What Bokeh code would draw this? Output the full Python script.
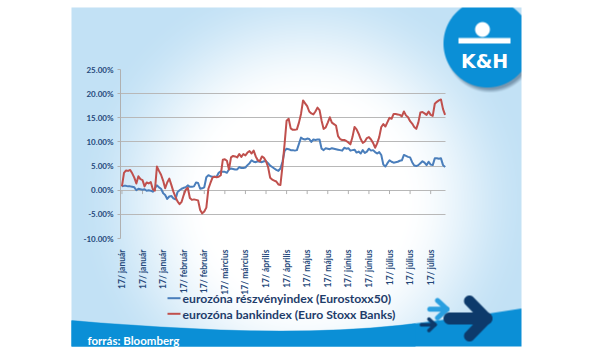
import math
import numpy as np
from bokeh.plotting import figure
from bokeh.models import (Range1d, LinearAxis, FixedTicker, Grid, PrintfTickFormatter)
from bokeh.core.properties import value
from bokeh.embed import file_html
from bokeh.resources import INLINE

# ---------------- data ----------------
tick_labels = ["17/ január", "17/ január", "17/ január", "17/ február", "17/ február",
               "17/ március", "17/ március", "17/ április", "17/ április", "17/ május",
               "17/ május", "17/ június", "17/ június", "17/ július", "17/ július", "17/ július"]
tick_days = [0, 10, 20, 30, 40, 50, 60, 70, 80, 90, 100, 110, 120, 130, 140, 150]
y_ticks = [-10, -5, 0, 5, 10, 15, 20, 25]
series_names = ["eurozóna részvényindex (Eurostoxx50)", "eurozóna bankindex (Euro Stoxx Banks)"]

eurostoxx50 = [
    0.8, 0.9, 0.9, 0.8, 0.8, 0.7, 0.6, 0.0, 0.3, 0.2,
    0.1, 0.2, -0.1, 0.0, -0.1, -0.3, 0.4, 1.0, 0.6, 0.3,
    -0.6, -1.0, -1.8, -1.3, -1.2, -1.7, -1.9, -0.4, 0.0, 0.3,
    0.5, 0.6, 1.0, 0.7, 0.7, 0.8, 1.6, 1.5, 0.3, 0.4,
    0.6, 2.7, 3.1, 2.9, 2.8, 2.8, 2.8, 3.6, 3.9, 3.8,
    3.8, 3.6, 4.3, 4.5, 4.4, 4.3, 4.3, 4.8, 4.6, 4.6,
    4.7, 5.2, 5.6, 6.2, 5.9, 5.8, 6.0, 5.9, 5.8, 6.0,
    6.0, 5.6, 5.1, 4.8, 4.5, 4.2, 4.0, 4.5, 5.9, 8.1,
    8.6, 8.5, 8.3, 8.3, 8.2, 8.3, 9.6, 10.9, 10.6, 10.5,
    10.7, 10.6, 10.0, 10.5, 10.4, 10.5, 10.5, 8.6, 8.3, 8.7,
    8.6, 8.5, 8.7, 8.6, 8.5, 8.4, 8.3, 8.2, 8.8, 8.6,
    8.7, 8.2, 8.3, 8.4, 7.8, 8.0, 7.6, 8.3, 7.7, 8.0,
    8.6, 8.2, 8.3, 7.9, 7.6, 7.9, 7.3, 5.3, 4.9, 5.6,
    6.2, 5.9, 5.7, 5.8, 5.9, 6.1, 6.2, 7.3, 7.1, 6.9,
    6.8, 5.8, 5.1, 5.0, 5.2, 5.6, 6.0, 5.7, 5.2, 5.9,
    5.3, 5.2, 6.6, 6.6, 6.5, 6.6, 5.2, 4.8]

euro_stoxx_banks = [
    0.8, 3.6, 4.1, 4.0, 4.2, 3.5, 2.6, 1.4, 2.9, 2.3,
    2.1, 0.8, 1.6, 1.4, 1.7, 0.2, -0.1, 4.9, 4.0, 3.2,
    2.0, 0.4, 1.6, 2.4, 1.1, -0.3, -1.4, -2.3, -2.9, -2.4,
    -1.0, 0.1, 0.5, -1.6, -2.0, -1.9, -2.0, -2.1, -4.1, -4.8,
    -4.4, -3.6, 0.3, 1.5, 2.6, 2.8, 2.7, 2.8, 3.1, 6.3,
    6.4, 6.1, 4.3, 6.8, 7.1, 7.0, 6.8, 7.5, 6.9, 7.5,
    7.2, 7.8, 8.1, 7.6, 8.2, 7.0, 6.2, 6.0, 7.0, 6.7,
    6.0, 4.8, 2.6, 2.2, 2.0, 1.8, 1.2, 1.1, 5.0, 9.5,
    14.4, 14.8, 12.8, 12.5, 12.5, 12.6, 14.0, 15.8, 18.6, 18.0,
    17.4, 16.3, 15.9, 15.7, 16.3, 17.1, 16.6, 14.4, 12.7, 13.0,
    14.0, 15.1, 14.0, 13.7, 13.4, 11.2, 10.6, 10.4, 10.4, 10.2,
    9.9, 9.5, 11.0, 13.1, 12.6, 11.7, 10.6, 9.8, 10.1, 10.8,
    11.0, 10.5, 9.8, 8.8, 9.7, 11.0, 13.1, 13.7, 13.2, 14.1,
    15.0, 14.8, 15.8, 15.8, 15.7, 15.6, 15.3, 16.3, 15.5, 15.1,
    14.3, 13.8, 13.1, 12.7, 14.0, 16.1, 16.2, 15.9, 15.6, 16.3,
    15.6, 15.4, 17.9, 18.3, 18.6, 18.8, 16.8, 15.6]

days = list(range(len(eurostoxx50)))

# ---------------- layout geometry (pixels) ----------------
W, H = 600, 357
FL, FR, FT, FB = 120, 445, 69, 238          # plot frame
X0, X1 = -0.7, 157.2
Y0, Y1 = -10, 25
PX0, PX1, PY0, PY1 = 71, 521, 7, 346        # decorative panel

BLUE = "#4a7ebb"
RED = "#c0504d"
NAVY = "#1f3d6b"
TICKC = "#25487a"
BAND = "#0b8fd6"


def dx(px):
    return (X0 + (np.asarray(px, float) - FL) * (X1 - X0) / (FR - FL)).tolist()


def dy(py):
    return (Y1 - (np.asarray(py, float) - FT) * (Y1 - Y0) / (FB - FT)).tolist()


def rgb(h):
    h = h.lstrip("#")
    return np.array([int(h[i:i + 2], 16) for i in (0, 2, 4)], float)


p = figure(width=W, height=H, x_range=Range1d(X0, X1), y_range=Range1d(Y0, Y1),
           x_axis_type=None, y_axis_type=None, output_backend="svg", toolbar_location=None,
           min_border_left=FL, min_border_right=W - FR, min_border_top=FT,
           min_border_bottom=H - FB, background_fill_color="white",
           border_fill_color="white", outline_line_color=None)

DL = "guide"   # decoration level (drawn before grid/data/axes)

# ---------------- decorative raster: gradient, band, logo shapes, arrows ----------------
pw, ph = PX1 - PX0, PY1 - PY0
gx = PX0 + np.arange(pw) + 0.5
gy = PY1 - np.arange(ph) - 0.5          # row 0 = bottom
GX, GY = np.meshgrid(gx, gy)

u = (GX - 305) / 230.0
v = (GY - 200) / 230.0
r = np.sqrt(u * u + v * v)
t = np.clip((r - 0.42) / (1.0 - 0.42), 0, 1)
t = t * t * (3 - 2 * t)
edge = np.array([194, 225, 245], float)
out = np.stack([255 - (255 - edge[c]) * t for c in range(3)], axis=-1)


def blend(cov, color, alpha=1.0):
    global out
    a = (np.clip(cov, 0, 1) * alpha)[..., None]
    out = out * (1 - a) + rgb(color)[None, None, :] * a


def disc(cx, cy, rad):
    return rad + 0.5 - np.hypot(GX - cx, GY - cy)


def stroke(p0, p1, w):
    (x0, y0), (x1, y1) = p0, p1
    vx, vy = x1 - x0, y1 - y0
    tt = np.clip(((GX - x0) * vx + (GY - y0) * vy) / (vx * vx + vy * vy), 0, 1)
    d = np.hypot(GX - (x0 + tt * vx), GY - (y0 + tt * vy))
    return w + 0.5 - d


# bottom blue band with curved top edge
bx = np.array([71, 100, 130, 160, 190, 220, 250, 280, 310, 340, 370, 400, 430, 460, 490, 521])
by = np.array([320, 322.5, 324.5, 326.5, 328, 329.5, 330.3, 330.6, 330.3, 329.3, 327.5,
               324.8, 321, 317, 312.8, 308])
blend(GY - np.interp(GX, bx, by) + 0.5, BAND)

# logo: soft shadow, blue disc, white head and bar
shadow = np.clip((45.5 - np.hypot(GX - 489.5, GY - 47)) / 4.0, 0, 1)
blend(shadow, "#3d5a75", 0.55)
blend(disc(487, 43, 44), BAND)
blend(disc(482, 29, 7.4), "#ffffff")
bar = np.minimum(np.minimum(GX - 458, 510 - GX), np.minimum(GY - 37.5, 43 - GY)) + 0.5
blend(bar, "#ffffff")

# arrows
for (p0, p1, w, col) in [
    ((429.3, 308.7), (446.5, 308.7), 2.5, "#2a9fe0"),
    ((437.0, 300.0), (446.5, 308.7), 2.5, "#2a9fe0"),
    ((437.0, 317.4), (446.5, 308.7), 2.5, "#2a9fe0"),
    ((421.0, 324.3), (434.5, 324.3), 1.8, "#0d3a6b"),
    ((428.5, 318.6), (434.5, 324.3), 1.8, "#0d3a6b"),
    ((428.5, 330.0), (434.5, 324.3), 1.8, "#0d3a6b"),
    ((449.0, 318.0), (486.0, 318.0), 6.0, "#0d3a6b"),
    ((469.0, 300.5), (486.0, 318.0), 5.5, "#0d3a6b"),
    ((469.0, 335.5), (486.0, 318.0), 5.5, "#0d3a6b"),
]:
    blend(stroke(p0, p1, w), col)

img = np.empty((ph, pw, 4), dtype=np.uint8)
img[:, :, :3] = np.clip(np.round(out), 0, 255).astype(np.uint8)
img[:, :, 3] = 255
img32 = img.view(dtype=np.uint32).reshape((ph, pw))
p.image_rgba(image=[img32], x=dx(PX0), y=dy(PY1), dw=dx(PX1) - dx(PX0), dh=dy(PY0) - dy(PY1),
             level=DL)

# ---------------- logo text ----------------
p.text(x=[dx(484)], y=[dy(60)], text=["K&H"], text_color="white",
       text_font=value("DejaVu Sans"), text_font_style="bold", text_font_size=value("19px"),
       text_align="center", text_baseline="alphabetic", level=DL)

# ---------------- legend ----------------
for (ly, col, name) in [(297.7, BLUE, series_names[0]), (313.3, RED, series_names[1])]:
    p.line(dx([167, 180]), dy([ly, ly]), line_color=col, line_width=2, level=DL)
    p.text(x=[dx(182)], y=[dy(ly + 0.5)], text=[name], text_color=NAVY,
           text_font=value("Lato"), text_font_style="bold", text_font_size=value("12.2px"),
           text_align="left", text_baseline="middle", level=DL)

# ---------------- grid / axes ----------------
ygrid = Grid(dimension=1, ticker=FixedTicker(ticks=y_ticks), grid_line_color="#b8b8b8",
             grid_line_width=1, level="annotation")
p.add_layout(ygrid, "center")

yaxis = LinearAxis(ticker=FixedTicker(ticks=y_ticks), formatter=PrintfTickFormatter(format="%.2f%%"),
                   axis_line_color="#b0b0b0", major_tick_line_color="#b0b0b0",
                   major_tick_out=3, major_tick_in=0, minor_tick_line_color=None,
                   major_label_text_font="Lato", major_label_text_font_style="bold",
                   major_label_text_font_size="8px", major_label_text_color=TICKC,
                   major_label_standoff=4, level="overlay")
p.add_layout(yaxis, "left")

xaxis = LinearAxis(ticker=FixedTicker(ticks=tick_days),
                   major_label_overrides={d: l for d, l in zip(tick_days, tick_labels)},
                   major_label_orientation=math.pi / 2, axis_line_color=None,
                   major_tick_line_color=None, minor_tick_line_color=None,
                   major_label_text_font="Lato", major_label_text_font_style="bold",
                   major_label_text_font_size="8.5px", major_label_text_color=TICKC,
                   major_label_standoff=5, level="overlay")
p.add_layout(xaxis, "below")

# tick marks on the 0% category axis
p.segment(x0=tick_days, y0=[0] * len(tick_days), x1=tick_days, y1=[-0.8] * len(tick_days),
          line_color="#b0b0b0", line_width=1, level="overlay")

p.line(days, eurostoxx50, line_color=BLUE, line_width=2, line_join="round", level="overlay")
p.line(days, euro_stoxx_banks, line_color=RED, line_width=2, line_join="round", level="overlay")

# left part of the blue band again as a vector shape on top (same colour/curve as raster);
# a zero-area spike keeps its bounds touching the frame so it is not culled
lx = np.array([71, 100, 121, 121, 121, 130, 160, 190, 220, 250, 280, 310, 340, 370, 400, 415,
               415, 71])
c121 = float(np.interp(121, bx, by))
ly_ = np.array([320, 322.5, c121, 237.6, c121, 324.5, 326.5, 328, 329.5, 330.3, 330.6, 330.3,
                329.3, 327.5, 324.8, float(np.interp(415, bx, by)), 346, 346])
p.patch(dx(lx), dy(ly_), fill_color=BAND, line_color=None, level="overlay")

# source note, white on the blue band (drawn last)
p.text(x=[dx(87)], y=[dy(340)], text=["forrás: Bloomberg"], text_color="#ffffff",
       text_font=value("Lato"), text_font_style="bold", text_font_size=value("11.5px"),
       text_align="left", text_baseline="alphabetic", level="overlay")

open("out.html", "w").write(file_html(p, INLINE))
